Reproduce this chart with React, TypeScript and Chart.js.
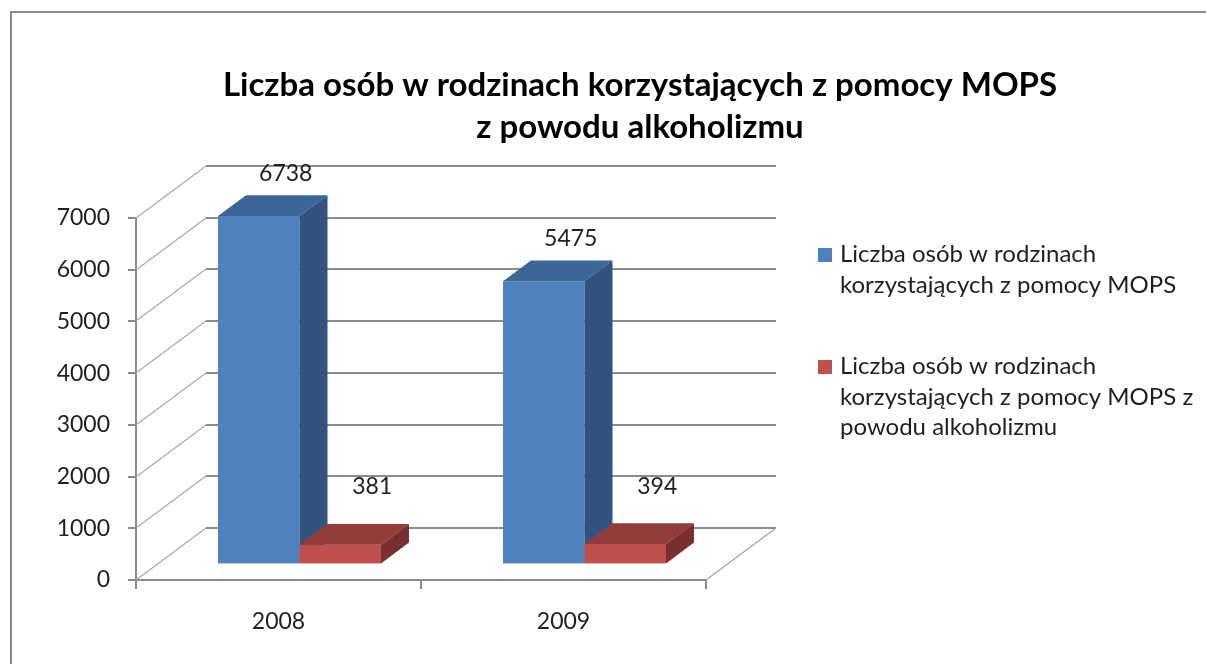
import React, { useEffect, useRef } from "react";
import { Chart, registerables } from "chart.js";

Chart.register(...registerables);

// ---------- data ----------
const CATEGORIES: string[] = ["2008", "2009"];
const SERIES_NAMES: string[] = [
  "Liczba osób w rodzinach korzystających z pomocy MOPS",
  "Liczba osób w rodzinach korzystających z pomocy MOPS z powodu alkoholizmu",
];
const ALL_PERSONS: number[] = [6738, 5475];
const ALCOHOL_PERSONS: number[] = [381, 394];
const Y_MIN = 0;
const Y_MAX = 7000;
const Y_STEP = 1000;
const TITLE_LINES: string[] = [
  "Liczba osób w rodzinach korzystających z pomocy MOPS",
  "z powodu alkoholizmu",
];

// ---------- style ----------
const FONT = "Lato, 'Open Sans', 'DejaVu Sans', sans-serif";
const TEXT_COLOR = "#1f1f1f";
const AXIS_COLOR = "#8a8a8a";
const FACE_COLORS = [
  { front: "#4F81BD", top: "#3C6697", side: "#30537F" },
  { front: "#C0504D", top: "#923C3A", side: "#782F2E" },
];
const DEPTH_DX = 70;
const DEPTH_DY = 52;
const BAR_FRONT = 0.3;
const BAR_BACK = 0.7;
const LABEL_LIFT = [22, 37];
const LABEL_SHIFT = [-1, 4];
const AXIS_FONT_SIZE = 23;
const LEGEND_FONT_SIZE = 24;
const TITLE_FONT_SIZE = 33;

function strokeLine(ctx: CanvasRenderingContext2D, x1: number, y1: number, x2: number, y2: number) {
  ctx.beginPath();
  ctx.moveTo(x1, y1);
  ctx.lineTo(x2, y2);
  ctx.stroke();
}

function fillPoly(ctx: CanvasRenderingContext2D, pts: number[][], color: string) {
  ctx.beginPath();
  ctx.moveTo(pts[0][0], pts[0][1]);
  for (let i = 1; i < pts.length; i++) ctx.lineTo(pts[i][0], pts[i][1]);
  ctx.closePath();
  ctx.fillStyle = color;
  ctx.fill();
}

const scene3d = {
  id: "scene3d",
  beforeDatasetsDraw(chart: any) {
    const { ctx, chartArea, scales } = chart;
    const { left, right, bottom } = chartArea;
    const yScale = scales.y;
    ctx.save();

    // walls: diagonals from the front axis and back-wall gridlines
    yScale.ticks.forEach((t: any) => {
      const py = Math.round(yScale.getPixelForValue(t.value));
      ctx.strokeStyle = "#a8a8a8";
      ctx.lineWidth = 1.2;
      strokeLine(ctx, left, py, left + DEPTH_DX, py - DEPTH_DY);
      ctx.strokeStyle = "#8c8c8c";
      ctx.lineWidth = 2;
      strokeLine(ctx, left + DEPTH_DX, py - DEPTH_DY, right + DEPTH_DX, py - DEPTH_DY);
    });
    // floor right edge
    ctx.strokeStyle = "#a0a0a0";
    ctx.lineWidth = 1.2;
    strokeLine(ctx, right, bottom, right + DEPTH_DX, bottom - DEPTH_DY);

    // 3D bars
    const fdx = DEPTH_DX * BAR_FRONT;
    const fdy = -DEPTH_DY * BAR_FRONT;
    const sdx = DEPTH_DX * (BAR_BACK - BAR_FRONT);
    const sdy = -DEPTH_DY * (BAR_BACK - BAR_FRONT);
    const n = chart.data.labels.length;
    const labels: any[] = [];
    for (let i = 0; i < n; i++) {
      chart.data.datasets.forEach((ds: any, d: number) => {
        const el = chart.getDatasetMeta(d).data[i];
        const { x, y, base, width } = el.getProps(["x", "y", "base", "width"], true);
        const c = FACE_COLORS[d];
        const x0 = x - width / 2 + fdx;
        const x1 = x + width / 2 + fdx;
        const y0 = y + fdy;
        const y1 = base + fdy;
        ctx.fillStyle = c.front;
        ctx.fillRect(x0, y0, x1 - x0, y1 - y0);
        fillPoly(ctx, [[x0, y0], [x0 + sdx, y0 + sdy], [x1 + sdx, y0 + sdy], [x1, y0]], c.top);
        fillPoly(ctx, [[x1, y0], [x1 + sdx, y0 + sdy], [x1 + sdx, y1 + sdy], [x1, y1]], c.side);
        labels.push({
          text: String(ds.data[i]),
          x: x + fdx + sdx + LABEL_SHIFT[d],
          y: y0 + sdy - LABEL_LIFT[d],
        });
      });
    }
    ctx.fillStyle = TEXT_COLOR;
    ctx.font = `${AXIS_FONT_SIZE}px ${FONT}`;
    ctx.textAlign = "center";
    ctx.textBaseline = "middle";
    labels.forEach((l) => ctx.fillText(l.text, l.x, l.y));
    ctx.restore();
    return false;
  },
};

function wrapText(ctx: CanvasRenderingContext2D, text: string, maxWidth: number): string[] {
  const words = text.split(" ");
  const lines: string[] = [];
  let cur = "";
  words.forEach((w) => {
    const test = cur ? cur + " " + w : w;
    if (cur && ctx.measureText(test).width > maxWidth) {
      lines.push(cur);
      cur = w;
    } else cur = test;
  });
  if (cur) lines.push(cur);
  return lines;
}

const decorations = {
  id: "decorations",
  afterDraw(chart: any) {
    const { ctx, width, height } = chart;
    ctx.save();
    // outer frame (cut at right/bottom as in the source)
    ctx.strokeStyle = "#8a8a8a";
    ctx.lineWidth = 2;
    ctx.beginPath();
    ctx.moveTo(width + 5, 12);
    ctx.lineTo(11, 12);
    ctx.lineTo(11, height + 5);
    ctx.stroke();

    // title
    ctx.fillStyle = "#000";
    ctx.font = `bold ${TITLE_FONT_SIZE}px ${FONT}`;
    ctx.textAlign = "center";
    ctx.textBaseline = "alphabetic";
    TITLE_LINES.forEach((t, i) => ctx.fillText(t, 640, 96 + i * 42));

    // legend
    ctx.font = `${LEGEND_FONT_SIZE}px ${FONT}`;
    ctx.textAlign = "left";
    let top = 248;
    chart.data.datasets.forEach((ds: any, d: number) => {
      ctx.fillStyle = FACE_COLORS[d].front;
      ctx.fillRect(818, top, 14, 14);
      ctx.fillStyle = TEXT_COLOR;
      const lines = wrapText(ctx, ds.label, 362);
      lines.forEach((ln, k) => ctx.fillText(ln, 840, top + 14 + k * 30.5));
      top += lines.length * 30.5 + 51;
    });
    ctx.restore();
  },
};

export default function App() {
  const ref = useRef<HTMLCanvasElement | null>(null);
  useEffect(() => {
    if (!ref.current) return;
    const chart = new Chart(ref.current, {
      type: "bar",
      data: {
        labels: CATEGORIES,
        datasets: [
          { label: SERIES_NAMES[0], data: ALL_PERSONS, backgroundColor: FACE_COLORS[0].front },
          { label: SERIES_NAMES[1], data: ALCOHOL_PERSONS, backgroundColor: FACE_COLORS[1].front },
        ],
      },
      options: {
        animation: false,
        responsive: true,
        maintainAspectRatio: false,
        layout: { padding: { left: 0, top: 218, right: 500, bottom: 0 } },
        datasets: { bar: { categoryPercentage: 0.572, barPercentage: 1 } } as any,
        plugins: {
          legend: { display: false },
          title: { display: false },
          tooltip: { enabled: false },
        },
        scales: {
          x: {
            grid: { offset: true, drawOnChartArea: false, drawTicks: true, tickLength: 9, color: AXIS_COLOR, lineWidth: 2 },
            border: { display: true, color: AXIS_COLOR, width: 2 },
            ticks: { font: { family: FONT, size: AXIS_FONT_SIZE }, color: TEXT_COLOR, padding: 19 },
            afterFit: (s: any) => {
              s.height = 84;
            },
          },
          y: {
            min: Y_MIN,
            max: Y_MAX,
            ticks: {
              stepSize: Y_STEP,
              font: { family: FONT, size: AXIS_FONT_SIZE },
              color: TEXT_COLOR,
              padding: 18,
              callback: (v: any) => String(v),
            },
            grid: { drawOnChartArea: false, drawTicks: true, tickLength: 8, color: AXIS_COLOR, lineWidth: 2 },
            border: { display: true, color: AXIS_COLOR, width: 2 },
            afterFit: (s: any) => {
              s.width = 136;
            },
          },
        },
      },
      plugins: [scene3d, decorations],
    });
    return () => chart.destroy();
  }, []);
  return (
    <div style={{ position: "fixed", left: 0, top: 0, width: 1206, height: 664, background: "#fff" }}>
      <canvas ref={ref} />
    </div>
  );
}
